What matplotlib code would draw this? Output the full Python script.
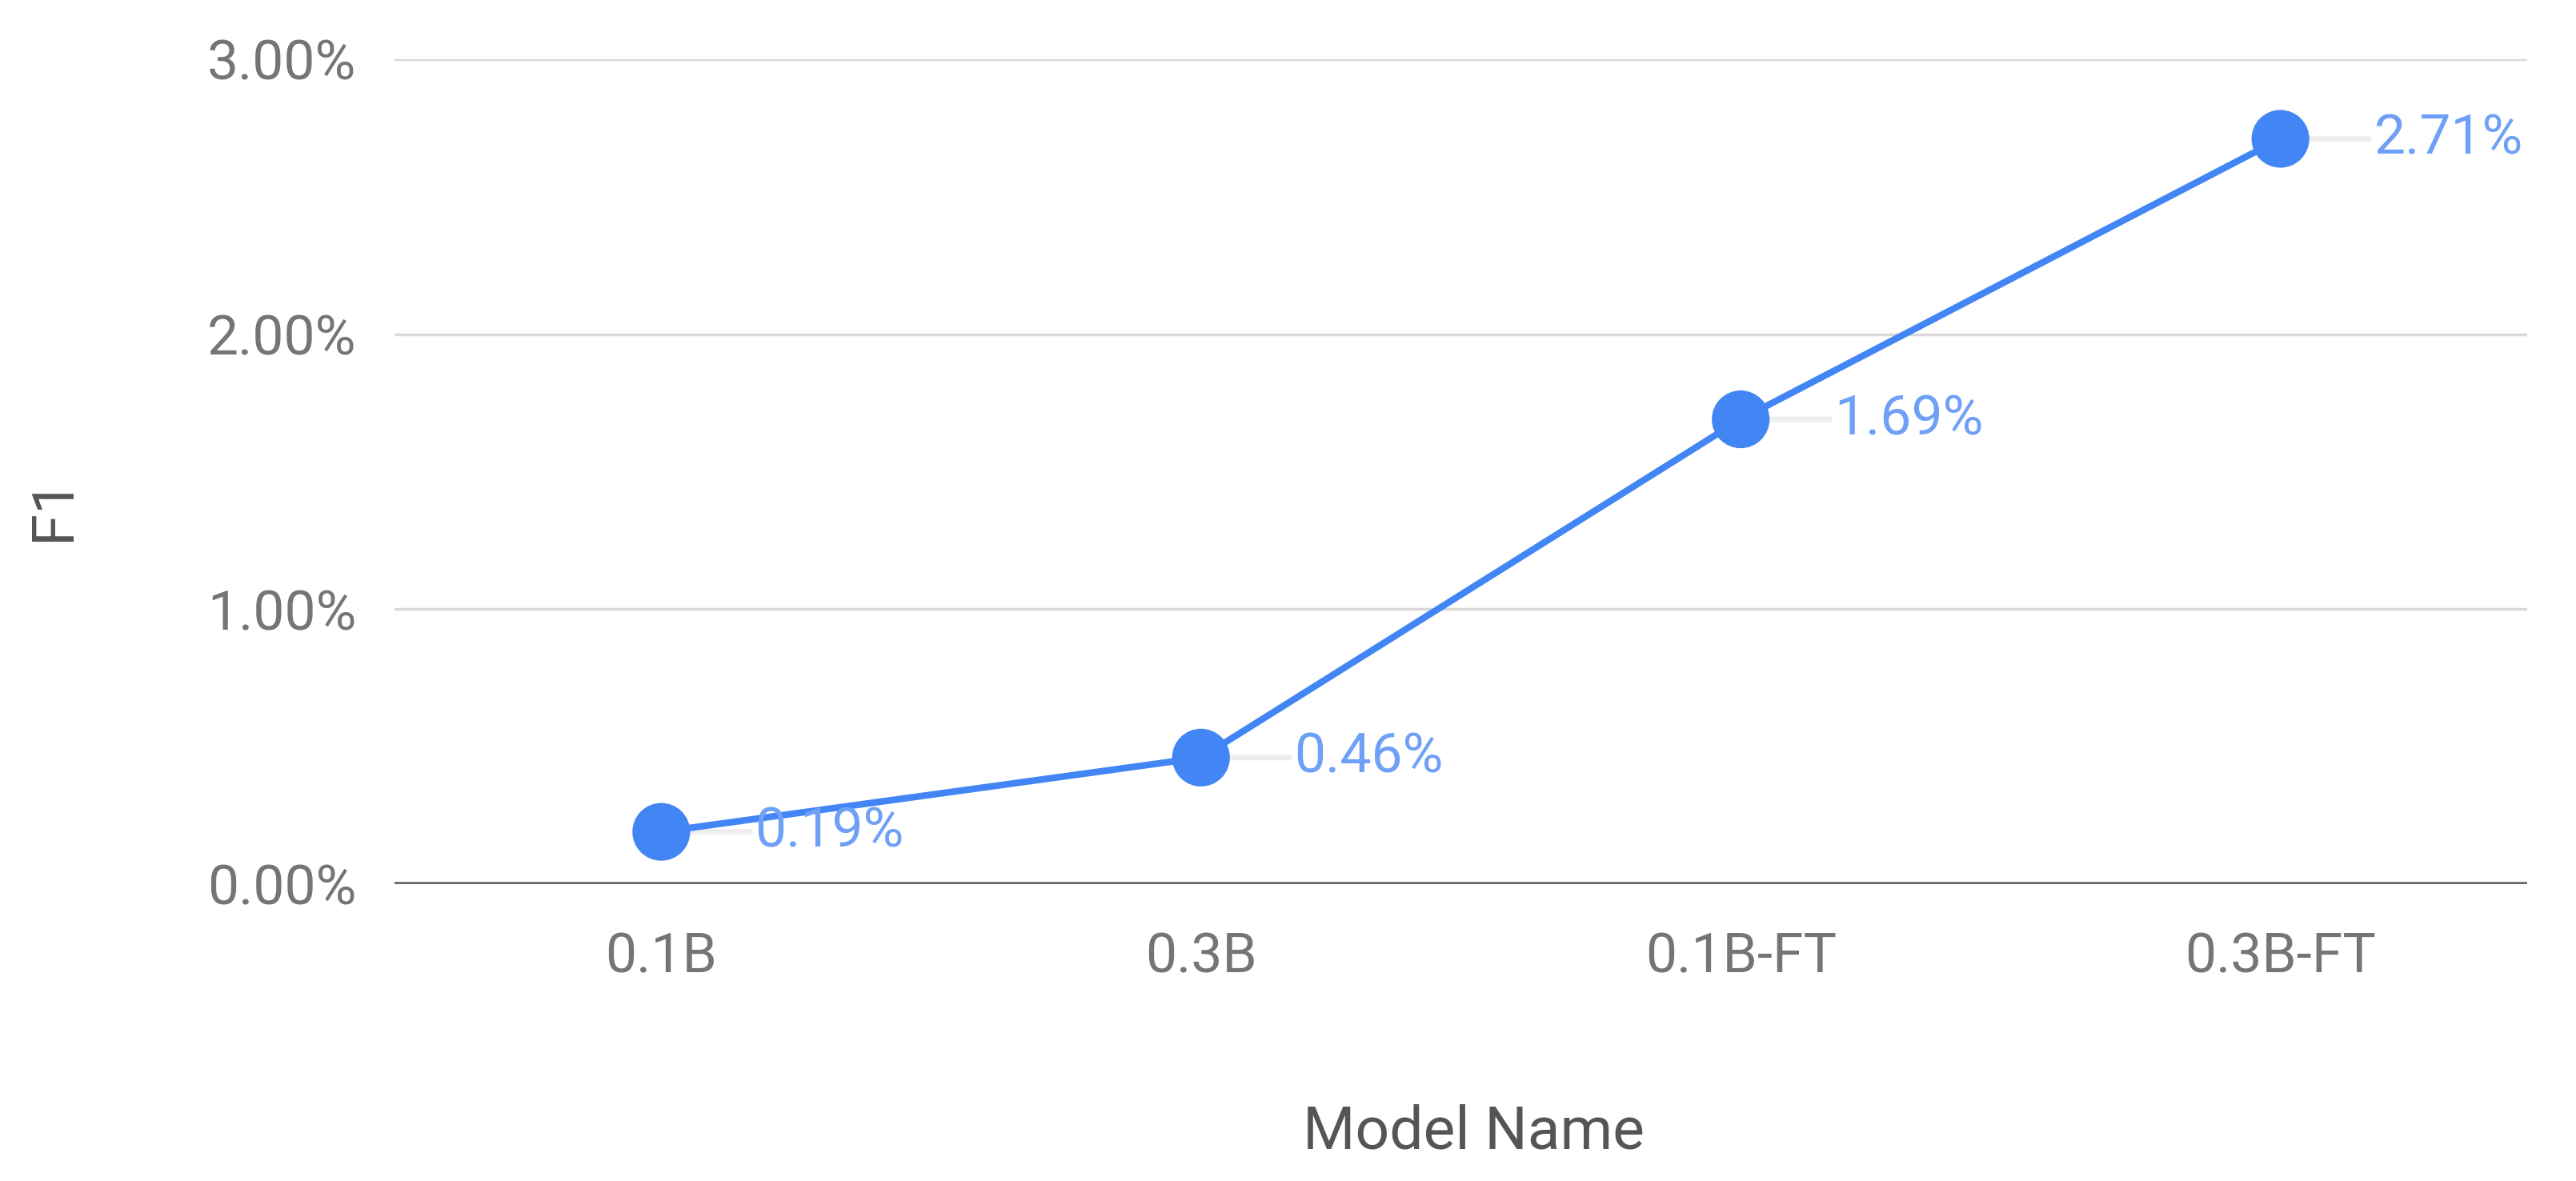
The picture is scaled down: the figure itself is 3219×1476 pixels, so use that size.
import matplotlib
matplotlib.use("Agg")
import matplotlib.pyplot as plt

models = ["0.1B", "0.3B", "0.1B-FT", "0.3B-FT"]
f1 = [0.19, 0.46, 1.69, 2.71]
y_ticks = [0, 1, 2, 3]

blue = "#4285F4"
plt.rcParams['font.family'] = ['Roboto', 'DejaVu Sans']

fig = plt.figure(figsize=(32.19, 14.76), dpi=100)
ax = fig.add_axes([0.153, 0.2514, 0.828, 0.6986])

x = list(range(len(models)))
ax.plot(x, f1, color=blue, lw=6, zorder=3, clip_on=False)
ax.scatter(x, f1, s=2700, color=blue, zorder=4, clip_on=False, edgecolors="none")

for xi, v in zip(x, f1):
    ax.annotate(f"{v:.2f}%", xy=(xi, v), xytext=(84, 0), textcoords="offset points",
                ha="left", va="center", fontsize=50, color="#6fa0f7", zorder=5)
    # short grey leader line between dot and label
    ax.annotate("", xy=(xi, v), xytext=(80, 0), textcoords="offset points",
                arrowprops=dict(arrowstyle="-", color="#eeeeee", lw=5,
                                shrinkA=0, shrinkB=0), zorder=2)

ax.set_xlim(-0.495, 3.457)
ax.set_ylim(0, 3)
ax.set_xticks(x)
ax.set_xticklabels(models)
ax.set_yticks(y_ticks)
ax.set_yticklabels([f"{t:.2f}%" for t in y_ticks])

ax.grid(axis="y", color="#d9d9d9", lw=2.5)
ax.set_axisbelow(True)
ax.axhline(0, color="#666666", lw=4, zorder=2.5)
for s in ax.spines.values():
    s.set_visible(False)
ax.tick_params(axis="both", length=0, labelsize=50, colors="#757575")
ax.tick_params(axis="x", pad=42)
ax.tick_params(axis="y", pad=34)

fig.text(0.021, 0.569, "F1", rotation=90, ha="center", va="center",
         fontsize=52, color="#555555")
fig.text(0.572, 0.041, "Model Name", ha="center", va="center",
         fontsize=54, color="#555555")

fig.savefig("out.png", dpi=100)
